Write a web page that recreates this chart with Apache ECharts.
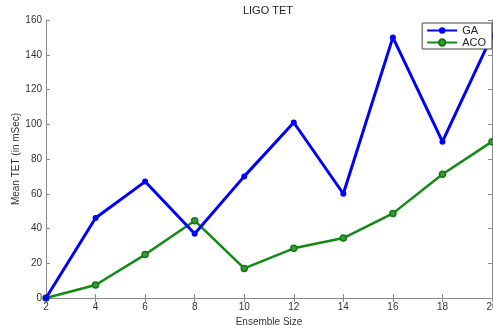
<!DOCTYPE html>
<html>
<head>
<meta charset="utf-8">
<script src="https://cdn.jsdelivr.net/npm/echarts@6/dist/echarts.min.js"></script>
<style>
  html, body { margin: 0; padding: 0; background: #fff; }
  #chart { width: 493px; height: 325px; }
</style>
</head>
<body>
<div id="chart"></div>
<script>
// Ensemble sizes and mean TET (mSec) for each algorithm
const ensembleSizes = [2, 4, 6, 8, 10, 12, 14, 16, 18, 20];
const gaValues = [0, 46, 67, 37, 70, 101, 60, 150, 90, 151];
const acoValues = [0, 7.5, 25, 44.5, 17, 28.6, 34.5, 48.7, 71.2, 90];

const FONT = 'Liberation Sans, Arial, sans-serif';
const AXIS_COLOR = '#8a8a8a';
const LABEL_COLOR = '#333';

const pairs = (xs, ys) => xs.map((x, i) => [x, ys[i]]);

const chart = echarts.init(document.getElementById('chart'), null, { renderer: 'canvas' });

const boxAxisCommon = {
  axisLine: { show: true, lineStyle: { color: AXIS_COLOR, width: 1 } },
  axisTick: { show: true, inside: true, length: 4, lineStyle: { color: AXIS_COLOR } },
  splitLine: { show: false }
};

chart.setOption({
  animation: false,
  backgroundColor: '#fff',
  title: {
    text: 'LIGO TET',
    left: 268, top: 5, padding: 0,
    textAlign: 'center',
    textStyle: { fontFamily: FONT, fontSize: 11, fontWeight: 'normal', color: '#222' }
  },
  legend: {
    orient: 'vertical',
    right: 1, top: 23,
    padding: [2, 6, 1, 4],
    itemGap: 1,
    itemWidth: 30, itemHeight: 8,
    borderColor: '#444', borderWidth: 1,
    backgroundColor: '#fff',
    textStyle: { fontFamily: FONT, fontSize: 11, color: '#222' },
    data: ['GA', 'ACO']
  },
  grid: { left: 46, right: 1, top: 20, bottom: 27, containLabel: false, outerBoundsMode: 'none' },
  xAxis: [
    Object.assign({
      type: 'value', min: 2, max: 20, interval: 2,
      position: 'bottom',
      name: 'Ensemble Size', nameLocation: 'middle', nameGap: 13,
      nameTextStyle: { fontFamily: FONT, fontSize: 10, color: LABEL_COLOR },
      axisLabel: { fontFamily: FONT, fontSize: 10, color: LABEL_COLOR, margin: 4 }
    }, boxAxisCommon),
    Object.assign({
      type: 'value', min: 2, max: 20, interval: 2,
      position: 'top',
      axisLabel: { show: false }
    }, boxAxisCommon)
  ],
  yAxis: [
    Object.assign({
      type: 'value', min: 0, max: 160, interval: 20,
      position: 'left',
      name: 'Mean TET (in mSec)', nameLocation: 'middle', nameGap: 25,
      nameMoveOverlap: false,
      nameTextStyle: { fontFamily: FONT, fontSize: 10, color: LABEL_COLOR },
      axisLabel: { fontFamily: FONT, fontSize: 10, color: LABEL_COLOR, margin: 4 }
    }, boxAxisCommon),
    Object.assign({
      type: 'value', min: 0, max: 160, interval: 20,
      position: 'right',
      axisLabel: { show: false }
    }, boxAxisCommon)
  ],
  series: [
    {
      name: 'GA', type: 'line',
      data: pairs(ensembleSizes, gaValues),
      symbol: 'circle', symbolSize: 6,
      lineStyle: { color: '#0000ff', width: 3 },
      itemStyle: { color: '#0000ff' },
      z: 3
    },
    {
      name: 'ACO', type: 'line',
      data: pairs(ensembleSizes, acoValues),
      symbol: 'circle', symbolSize: 6,
      lineStyle: { color: '#138a13', width: 2.5 },
      itemStyle: { color: '#3a9a3a', borderColor: '#107a10', borderWidth: 1.5 },
      z: 2
    }
  ]
});
</script>
</body>
</html>
